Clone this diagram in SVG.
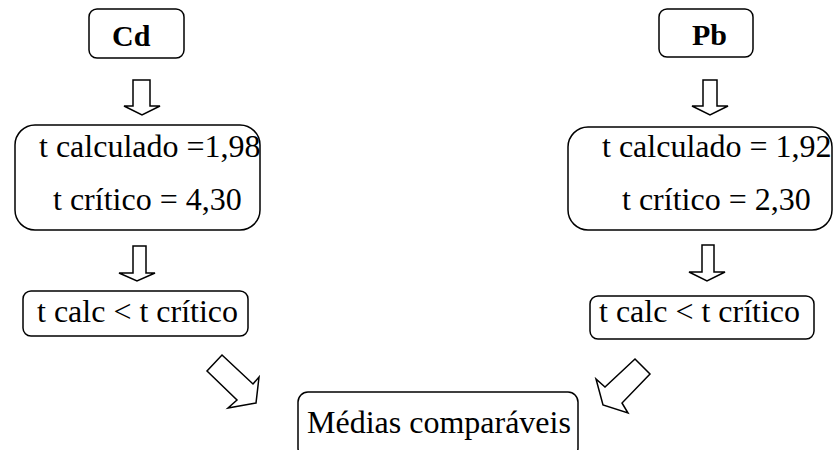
<svg xmlns="http://www.w3.org/2000/svg" width="836" height="450" viewBox="0 0 836 450">
  <style>
    .box { fill: #ffffff; stroke: #000000; stroke-width: 1.5; }
    .arr { fill: #ffffff; stroke: #000000; stroke-width: 1.5; stroke-linejoin: miter; }
    .t { font-family: 'Liberation Serif', 'DejaVu Serif', serif; font-size: 32px; fill: #000000; }
    .h { font-family: 'Liberation Serif', 'DejaVu Serif', serif; font-size: 30px; font-weight: bold; fill: #000000; }
  </style>
  <rect width="836" height="450" fill="#ffffff"/>

  <g id="cd">
    <rect class="box" x="89" y="9" width="95" height="49" rx="8" ry="8"/>
    <text class="h" x="112" y="46">Cd</text>
  </g>
  <g id="pb">
    <rect class="box" x="659" y="9" width="94" height="48" rx="8" ry="8"/>
    <text class="h" x="692" y="45">Pb</text>
  </g>

  <g id="cd-t">
    <rect class="box" x="15" y="125" width="245" height="105" rx="20" ry="20"/>
    <text class="t" x="39" y="157">t calculado =1,98</text>
    <text class="t" x="53" y="210">t crítico = 4,30</text>
  </g>
  <g id="pb-t">
    <rect class="box" x="568" y="127" width="264" height="103" rx="20" ry="20"/>
    <text class="t" x="602" y="157">t calculado = 1,92</text>
    <text class="t" x="622" y="210">t crítico = 2,30</text>
  </g>

  <g id="cd-cmp">
    <rect class="box" x="23" y="291" width="225" height="45" rx="8" ry="8"/>
    <text class="t" x="37" y="322">t calc &lt; t crítico</text>
  </g>
  <g id="pb-cmp">
    <rect class="box" x="590" y="296" width="224" height="43" rx="8" ry="8"/>
    <text class="t" x="599" y="322">t calc &lt; t crítico</text>
  </g>

  <g id="medias">
    <rect class="box" x="298" y="392" width="280" height="66" rx="10" ry="10"/>
    <text class="t" x="307" y="433">Médias comparáveis</text>
  </g>

  <g id="connectors">
    <polygon class="arr" points="133,80 150,80 150,106 160,106 142,115 124,106 133,106"/>
    <polygon class="arr" points="703,80 717,80 717,106 728,106 710,115 692,106 703,106"/>
    <polygon class="arr" points="133,246 146,246 146,273 155,273 137,281 119,273 133,273"/>
    <polygon class="arr" points="702,245 714,245 714,272 725,272 707,281 689,272 702,272"/>
    <polygon class="arr" points="222,355 253,384 259,377 256,403 228,408 237,400 207,371"/>
    <polygon class="arr" points="635,359 650,374 622,403 628,413 603,405 596,379 605,387"/>
  </g>
</svg>
